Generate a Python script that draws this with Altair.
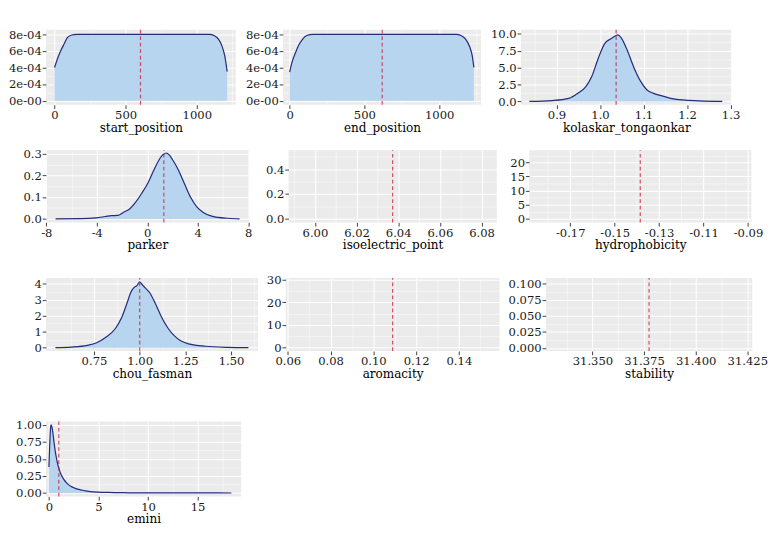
import altair as alt
import pandas as pd

FONT = "DejaVu Serif"
FILL = "#B7D5EF"
LINE = "#262B7A"
VLINE = "#C8102E"

# ---------------- data ----------------
start_x = [0, 25, 47, 68, 89, 121, 153, 400, 700, 1000, 1089, 1121, 1153, 1174, 1196, 1213]
start_y = [4.0e-4, 5.25e-4, 6.14e-4, 6.86e-4, 7.57e-4, 7.93e-4, 8.0e-4, 8.0e-4, 8.0e-4, 8.0e-4,
           8.0e-4, 7.86e-4, 7.39e-4, 6.7e-4, 5.4e-4, 3.5e-4]
start_mean = 604

end_x = [0, 17, 39, 60, 82, 114, 157, 400, 700, 1000, 1114, 1146, 1178, 1204, 1221, 1232]
end_y = [3.46e-4, 4.71e-4, 5.79e-4, 6.68e-4, 7.32e-4, 7.86e-4, 8.0e-4, 8.0e-4, 8.0e-4, 8.0e-4,
         8.0e-4, 7.86e-4, 7.39e-4, 6.5e-4, 5.43e-4, 4.0e-4]
end_mean = 619

kol_x = [0.8376, 0.89, 0.928, 0.95, 0.966, 0.981, 0.996, 1.011, 1.026, 1.041, 1.048, 1.063,
         1.078, 1.093, 1.108, 1.123, 1.138, 1.16, 1.19, 1.228, 1.281]
kol_y = [0.0, 0.13, 0.45, 1.25, 2.1, 3.7, 6.4, 8.6, 9.3, 9.85, 9.5, 7.5, 5.0, 3.0, 1.7, 1.2,
         0.9, 0.5, 0.22, 0.09, 0.0]
kol_mean = 1.037

par_x = [-7.27, -5.28, -4.06, -3.33, -2.84, -2.36, -1.87, -1.38, -0.92, -0.44, 0.05, 0.53,
         1.02, 1.26, 1.5, 1.75, 1.99, 2.48, 2.97, 3.45, 3.94, 4.43, 5.16, 6.38, 7.3]
par_y = [0.0, 0.001, 0.005, 0.011, 0.015, 0.016, 0.031, 0.047, 0.077, 0.118, 0.165, 0.226,
         0.28, 0.296, 0.303, 0.293, 0.273, 0.223, 0.158, 0.097, 0.054, 0.03, 0.012, 0.003, 0.0]
par_mean = 1.31

iso_mean = 6.0373
hyd_mean = -0.1385

chou_x = [0.539, 0.627, 0.713, 0.764, 0.815, 0.867, 0.9, 0.934, 0.951, 0.968, 0.986, 1.0,
          1.011, 1.029, 1.054, 1.088, 1.122, 1.156, 1.19, 1.224, 1.275, 1.36, 1.48, 1.595]
chou_y = [0.0, 0.04, 0.15, 0.31, 0.65, 1.2, 1.85, 2.9, 3.45, 3.75, 3.9, 4.12, 3.98, 3.75,
          3.45, 2.7, 1.85, 1.2, 0.74, 0.43, 0.22, 0.09, 0.02, 0.0]
chou_mean = 1.0

aro_mean = 0.109
stab_mean = 31.3774

emi_x = [0, 0.08, 0.15, 0.22, 0.3, 0.4, 0.5, 0.65, 0.8, 1.0, 1.2, 1.5, 1.8, 2.2, 2.6, 3.0,
         3.5, 4.0, 5.0, 6.0, 7.5, 9.0, 11, 13, 15, 17, 18.4]
emi_y = [0.38, 0.7, 0.93, 1.0, 0.97, 0.88, 0.76, 0.6, 0.48, 0.36, 0.28, 0.2, 0.145, 0.1,
         0.072, 0.052, 0.036, 0.025, 0.013, 0.008, 0.004, 0.002, 0.001, 0.0006, 0.0004,
         0.0002, 0.0]
emi_mean = 0.996

# tick values
pos_xt = [0, 500, 1000]
pos_yt = [0, 2e-4, 4e-4, 6e-4, 8e-4]
kol_xt = [0.9, 1.0, 1.1, 1.2, 1.3]
kol_yt = [0, 2.5, 5, 7.5, 10]
par_xt = [-8, -4, 0, 4, 8]
par_yt = [0, 0.1, 0.2, 0.3]
iso_xt = [6.00, 6.02, 6.04, 6.06, 6.08]
iso_yt = [0, 0.2, 0.4]
hyd_xt = [-0.17, -0.15, -0.13, -0.11, -0.09]
hyd_yt = [0, 5, 10, 15, 20]
chou_xt = [0.75, 1.0, 1.25, 1.5]
chou_yt = [0, 1, 2, 3, 4]
aro_xt = [0.06, 0.08, 0.10, 0.12, 0.14]
aro_yt = [0, 10, 20, 30]
stab_xt = [31.350, 31.375, 31.400, 31.425]
stab_yt = [0, 0.025, 0.05, 0.075, 0.1]
emi_xt = [0, 5, 10, 15]
emi_yt = [0, 0.25, 0.5, 0.75, 1.0]

# ---------------- styling helpers ----------------
BASE_AX = dict(grid=True, gridColor="white", domain=False, tickColor="#333333",
               tickSize=4, tickWidth=1, labelColor="#1a1a1a", labelFont=FONT, labelFontSize=12.5,
               labelPadding=1, titleFont=FONT, titleFontSize=13, titleFontWeight="normal",
               titleColor="black", titlePadding=1, labelFlush=False, labelOverlap=False)


def fmt(spec):
    return "replace(format(datum.value, '%s'), '\u2212', '-')" % spec


SCI = "datum.value == 0 ? '0e-00' : format(datum.value * 10000, '.0f') + 'e-04'"


def minor_vals(ticks, dom):
    step = ticks[1] - ticks[0]
    vals = [(a + b) / 2 for a, b in zip(ticks[:-1], ticks[1:])]
    vals += [ticks[0] - step / 2, ticks[-1] + step / 2]
    return [v for v in vals if dom[0] <= v <= dom[1]]


def make_axis(ticks, dom, label, title, orient):
    test = "indexof(%s, datum.value) >= 0" % ("[" + ",".join(repr(float(t)) for t in ticks) + "]")
    vals = sorted([float(t) for t in ticks] + minor_vals(ticks, dom))
    return alt.Axis(
        values=vals,
        labelExpr="%s ? (%s) : ''" % (test, label),
        title=title,
        orient=orient,
        gridWidth={"condition": {"test": test, "value": 1.1}, "value": 0.5},
        tickOpacity={"condition": {"test": test, "value": 1}, "value": 0},
        **BASE_AX,
    )


def panel(title, xs, ys, mean, xdom, ydom, xt, yt, xlab, ylab, w, h):
    xsc = alt.Scale(domain=xdom, nice=False, zero=False)
    ysc = alt.Scale(domain=ydom, nice=False, zero=False)
    ref = pd.DataFrame({"m": [mean], "lo": [ydom[0]], "hi": [ydom[1]]})
    xax = make_axis(xt, xdom, xlab, title, "bottom")
    yax = make_axis(yt, ydom, ylab, None, "left")
    layers = []
    if xs is not None:
        df = pd.DataFrame({"x": xs, "y": ys})
        base = alt.Chart(df).encode(
            x=alt.X("x:Q", scale=xsc, axis=xax),
            y=alt.Y("y:Q", scale=ysc, axis=yax),
        )
        layers.append(base.mark_area(color=FILL, opacity=1, interpolate="monotone"))
        layers.append(base.mark_line(color=LINE, strokeWidth=1.3, interpolate="monotone"))
    rule = alt.Chart(ref).mark_rule(color=VLINE, opacity=0.7, strokeDash=[4, 3], strokeWidth=1.3).encode(
        x=alt.X("m:Q", scale=xsc, axis=xax),
        y=alt.Y("lo:Q", scale=ysc, axis=yax),
        y2="hi:Q",
    )
    layers.append(rule)
    return alt.layer(*layers).properties(width=w, height=h)


p1 = panel("start_position", start_x, start_y, start_mean, [-60, 1273], [-5e-5, 8.55e-4],
           pos_xt, pos_yt, fmt("d"), SCI, 205, 81)
p2 = panel("end_position", end_x, end_y, end_mean, [-45, 1280], [-5e-5, 8.55e-4],
           pos_xt, pos_yt, fmt("d"), SCI, 214, 81)
p3 = panel("kolaskar_tongaonkar", kol_x, kol_y, kol_mean, [0.818, 1.303], [-0.5, 10.6],
           kol_xt, kol_yt, fmt(".1f"), fmt(".1f"), 228, 81)
p4 = panel("parker", par_x, par_y, par_mean, [-8.03, 8.03], [-0.016, 0.316],
           par_xt, par_yt, fmt("d"), fmt(".1f"), 219, 78)
p5 = panel("isoelectric_point", None, None, iso_mean, [iso_mean - 0.05, iso_mean + 0.05],
           [-0.028, 0.555], iso_xt, iso_yt, fmt(".2f"), fmt(".1f"), 225, 78)
p6 = panel("hydrophobicity", None, None, hyd_mean, [hyd_mean - 0.05, hyd_mean + 0.05],
           [-1.2, 24.3], hyd_xt, hyd_yt, fmt(".2f"), fmt("d"), 240, 78)
p7 = panel("chou_fasman", chou_x, chou_y, chou_mean, [0.487, 1.647], [-0.21, 4.36],
           chou_xt, chou_yt, fmt(".2f"), fmt("d"), 229, 79)
p8 = panel("aromacity", None, None, aro_mean, [aro_mean - 0.05, aro_mean + 0.05],
           [-1.6, 30.9], aro_xt, aro_yt, fmt(".2f"), fmt("d"), 231, 79)
p9 = panel("stability", None, None, stab_mean, [stab_mean - 0.05, stab_mean + 0.05],
           [-0.005, 0.109], stab_xt, stab_yt, fmt(".3f"), fmt(".3f"), 223, 79)
p10 = panel("emini", emi_x, emi_y, emi_mean, [-0.3, 19.4], [-0.05, 1.05],
            emi_xt, emi_yt, fmt("d"), fmt(".2f"), 211, 81)

row1 = alt.hconcat(p1, p2, p3, spacing=10)
row2 = alt.hconcat(p4, p5, p6, spacing=14)
row3 = alt.hconcat(p7, p8, p9, spacing=9)
row4 = alt.hconcat(p10)

top = alt.vconcat(row1, row2, spacing=14)
chart = alt.vconcat(
    alt.vconcat(top, row3, spacing=24), row4, spacing=41
).properties(padding=0, background="white").configure(font=FONT).configure_view(
    fill="#EBEBEB", strokeWidth=0)

chart.save("out.html", embed_options={"renderer": "svg", "actions": False})
